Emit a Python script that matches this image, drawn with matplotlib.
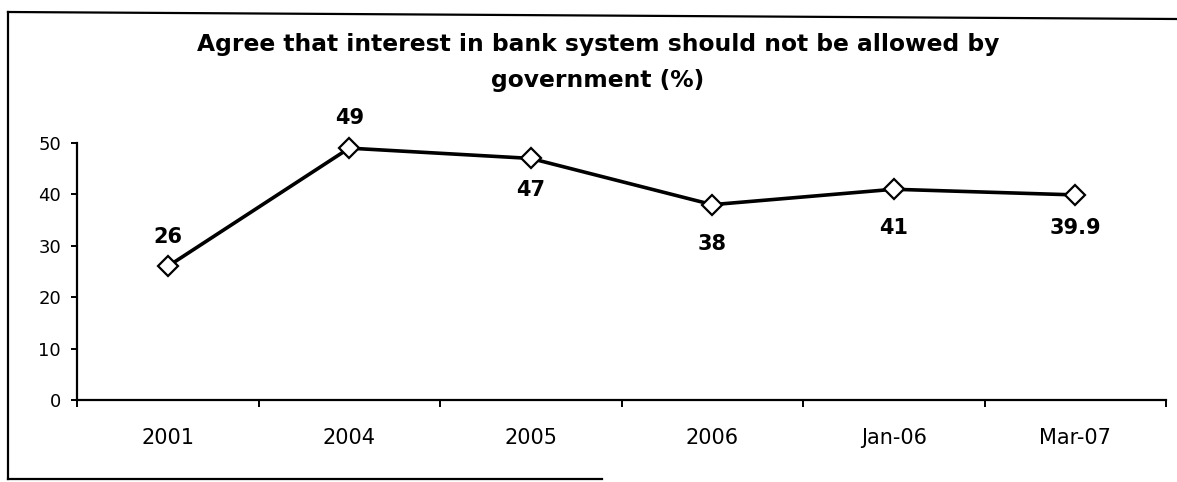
import matplotlib.pyplot as plt
from matplotlib.lines import Line2D

# survey share agreeing that bank interest should be banned
periods = ["2001", "2004", "2005", "2006", "Jan-06", "Mar-07"]
agree_pct = [26, 49, 47, 38, 41, 39.9]
value_labels = ["26", "49", "47", "38", "41", "39.9"]

# label placement: above or below each marker, offset in points
label_offsets = [21, 22, -23, -28, -28, -24]

W, H = 1177, 482
fig = plt.figure(figsize=(W / 100, H / 100), dpi=100)
fig.patch.set_facecolor("white")

ax = fig.add_axes([77 / W, (H - 400) / H, (1166 - 77) / W, 257 / H])

x = list(range(len(periods)))
ax.plot(x, agree_pct, color="black", lw=2.6, marker="D", markersize=10,
        markerfacecolor="white", markeredgecolor="black", markeredgewidth=1.6,
        zorder=3, clip_on=False)

for xi, v, txt, off in zip(x, agree_pct, value_labels, label_offsets):
    ax.annotate(txt, (xi, v), xytext=(0, off), textcoords="offset points",
                ha="center", va="center", fontsize=15, fontweight="bold")

ax.set_xlim(-0.5, len(periods) - 0.5)
ax.set_ylim(0, 50)

# tick marks at category boundaries, labels at category centres
ax.set_xticks([i - 0.5 for i in range(len(periods) + 1)])
ax.set_xticklabels([])
ax.set_xticks(x, minor=True)
ax.set_xticklabels(periods, minor=True, fontsize=15)
ax.tick_params(axis="x", which="major", direction="out", length=5, width=1.4)
ax.tick_params(axis="x", which="minor", length=0, pad=20)

ax.set_yticks(range(0, 51, 10))
ax.tick_params(axis="y", direction="out", length=4.5, width=1.4, labelsize=13, pad=7)

for side in ["top", "right"]:
    ax.spines[side].set_visible(False)
for side in ["left", "bottom"]:
    ax.spines[side].set_linewidth(1.6)

fig.text(598 / W, 1 - 45 / H,
         "Agree that interest in bank system should not be allowed by",
         ha="center", va="center", fontsize=16.8, fontweight="bold")
fig.text(598 / W, 1 - 80 / H, "government (%)",
         ha="center", va="center", fontsize=16.8, fontweight="bold")

# outer frame lines
frame = [
    ((8, 8), (12, 479)),
    ((8, 1177), (12, 19)),
    ((8, 602), (479, 479)),
]
for xs, ys in frame:
    fig.add_artist(Line2D([px / W for px in xs], [1 - py / H for py in ys],
                          color="black", lw=1.6))

fig.savefig("out.png", dpi=100)
